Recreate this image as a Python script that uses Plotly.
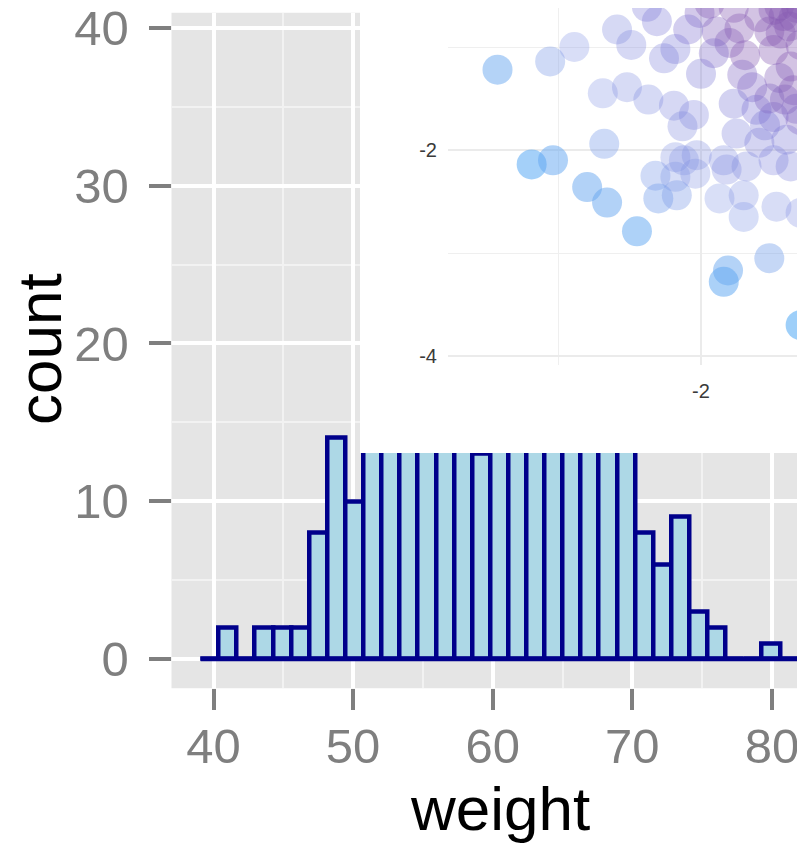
import plotly.graph_objects as go

# ---------------- data ----------------
# histogram of weight (binned counts)
bin_start = 39.08
bin_width = 1.297
counts = [0, 2, 0, 2, 2, 2, 8, 14, 10, 18, 22, 25, 24, 28, 22, 13, 26, 39,
          30, 27, 24, 22, 20, 17, 8, 6, 9, 3, 2, 0, 0, 1, 0, 0]
x_ticks_main = [40, 50, 60, 70, 80]
y_ticks_main = [0, 10, 20, 30, 40]

# inset scatter (visible part only)
sc_x = [-3.43, -3.06, -2.89, -2.59, -2.38, -2.31, -2.49, -2.69, -2.52, -2.37,
        -2.19, -2.26, -2.18, -2.00, -2.05, -2.13, -2.68, -3.19, -3.04, -2.80,
        -2.66, -2.45, -2.32, -2.18, -2.03, -2.04, -2.18, -2.30, -2.17, -1.82,
        -1.87, -1.70, -1.70, -1.47, -1.81, -1.84, -1.52, -1.30, -1.30,
        -2.01, -1.94, -1.77, -1.89, -1.80, -1.69, -1.91, -1.71, -1.64, -1.77,
        -1.49, -1.44, -1.49, -1.35, -1.59, -1.37, -1.49, -1.35, -1.61, -1.75,
        -1.59, -1.40, -1.68, -1.49, -1.37, -1.84, -2.12, -2.09, -1.73, -1.30,
        -1.30, -1.41, -1.30, -1.55,
        -1.45, -1.38, -1.52, -1.33, -1.42, -1.45, -1.33, -1.52]
sc_y = [-1.22, -1.14, -1.00, -0.83, -0.61, -0.75, -0.98, -1.45, -1.39, -1.51,
        -1.57, -1.11, -1.02, -1.26, -1.66, -1.77, -1.94, -2.14, -2.10, -2.36,
        -2.51, -2.79, -2.25, -2.07, -2.05, -2.23, -2.26, -2.47, -2.44, -2.19,
        -2.47, -2.44, -2.65, -2.55, -3.17, -3.28, -3.05, -3.70, -2.61,
        -0.67, -0.58, -0.62, -0.85, -0.96, -1.08, -1.06, -1.27, -1.39, -1.55,
        -1.03, -0.87, -0.64, -0.71, -0.71, -1.19, -1.68, -1.42, -1.61, -1.84,
        -1.93, -1.90, -2.16, -2.10, -2.16, -2.10, -2.10, -0.83, -0.82, -0.59,
        -0.98, -1.51, -1.71, -1.76,
        -0.60, -0.80, -0.85, -0.62, -0.70, -1.30, -1.60, -1.50]
sc_z = [0.18, 0.37, 0.47, 0.64, 0.77, 0.79, 0.66, 0.47, 0.56, 0.60,
        0.65, 0.74, 0.80, 0.82, 0.68, 0.62, 0.35, 0.08, 0.15, 0.17,
        0.17, 0.14, 0.38, 0.50, 0.56, 0.49, 0.43, 0.31, 0.37, 0.58,
        0.45, 0.51, 0.43, 0.53, 0.18, 0.12, 0.30, 0.04, 0.54,
        0.94, 0.99, 1.00, 0.96, 0.98, 1.00, 0.91, 0.93, 0.92, 0.82,
        1.00, 1.00, 1.00, 1.00, 1.00, 1.00, 0.88, 1.00, 0.86, 0.73,
        0.75, 0.82, 0.63, 0.71, 0.72, 0.60, 0.51, 0.88, 1.00, 1.00,
        1.00, 0.97, 0.93, 0.83,
        1.00, 1.00, 1.00, 1.00, 1.00, 0.98, 0.93, 0.95]
inset_x_ticks = [-4, -2]
inset_y_ticks = [-4, -2]

# ---------------- figure ----------------
W, H = 805, 843
OFF = 8  # the page body margin shifts the figure by this many pixels
FONT = "Liberation Sans, Arial, sans-serif"


def px_x(p):
    return (p - OFF) / W


def px_y(p):
    return 1 - (p - OFF) / H


centers = [bin_start + (i + 0.5) * bin_width for i in range(len(counts))]
edges_ends = [bin_start, bin_start + len(counts) * bin_width]

fig = go.Figure()

fig.add_trace(go.Scatter(
    x=edges_ends, y=[0, 0], mode="lines",
    line=dict(color="#00008B", width=4.5),
    xaxis="x", yaxis="y", hoverinfo="skip", showlegend=False))
fig.add_trace(go.Bar(
    x=centers, y=counts, width=bin_width,
    marker=dict(color="#ADD8E6", line=dict(color="#00008B", width=4.5)),
    xaxis="x", yaxis="y", showlegend=False))

# blank white subplot used as the inset background
fig.add_trace(go.Scatter(x=[None], y=[None], xaxis="x2", yaxis="y2",
                         showlegend=False, hoverinfo="skip"))

fig.add_trace(go.Scatter(
    x=sc_x, y=sc_y, mode="markers",
    marker=dict(size=30, color=sc_z, cmin=0, cmax=1, showscale=False,
                colorscale=[[0.0, "rgba(86,177,247,0.62)"],
                            [0.45, "rgba(128,148,228,0.30)"],
                            [0.85, "rgba(118,112,212,0.32)"],
                            [1.0, "rgba(132,88,178,0.36)"]],
                line=dict(width=0)),
    xaxis="x3", yaxis="y3", showlegend=False, hoverinfo="skip"))

# reference-pixel geometry of the main panel
main_left, main_bottom, main_top = 171.5, 688.3, 12.7
x0_px, x_scale = 213.5, 13.96
y0_px, y_scale = 659.0, 15.78
right_px = W + OFF

xr = [40 - (x0_px - main_left) / x_scale, 40 + (right_px - x0_px) / x_scale]
yr = [-(main_bottom - y0_px) / y_scale, (y0_px - main_top) / y_scale]

tick_font = dict(family=FONT, size=49, color="#7F7F7F")

fig.update_layout(
    template="none",
    width=W, height=H,
    margin=dict(l=0, r=0, t=0, b=0, pad=0),
    paper_bgcolor="white", plot_bgcolor="white",
    showlegend=False, bargap=0,
    xaxis=dict(domain=[px_x(main_left), 1], range=xr, anchor="y",
               automargin=False, ticklabeloverflow="allow",
               tickmode="array", tickvals=x_ticks_main,
               ticktext=[str(v) for v in x_ticks_main],
               ticks="outside", ticklen=21, tickwidth=4, tickcolor="#7F7F7F",
               tickfont=tick_font, showgrid=True, gridcolor="white", gridwidth=4,
               minor=dict(dtick=5, tick0=0, showgrid=True, gridcolor="#F2F2F2",
                          gridwidth=2, ticks=""),
               zeroline=False, showline=False, ticklabelstandoff=-6),
    yaxis=dict(domain=[px_y(main_bottom), px_y(main_top)], range=yr, anchor="x",
               automargin=False, ticklabeloverflow="allow",
               tickmode="array", tickvals=y_ticks_main,
               ticktext=[str(v) for v in y_ticks_main],
               ticks="outside", ticklen=22, tickwidth=4, tickcolor="#7F7F7F",
               tickfont=tick_font, showgrid=True, gridcolor="white", gridwidth=4,
               minor=dict(dtick=5, tick0=0, showgrid=True, gridcolor="#F2F2F2",
                          gridwidth=2, ticks=""),
               zeroline=False, showline=False, ticklabelstandoff=10),
    xaxis2=dict(domain=[px_x(360), 1], range=[0, 1], anchor="y2",
                visible=False, automargin=False),
    yaxis2=dict(domain=[px_y(453), 1], range=[0, 1], anchor="x2",
                visible=False, automargin=False),
    xaxis3=dict(domain=[px_x(448), 1],
                range=[-2 - (701 - 448) / 142.3, -2 + (right_px - 701) / 142.3],
                anchor="y3", automargin=False,
                tickmode="array", tickvals=inset_x_ticks,
                ticktext=[str(v) for v in inset_x_ticks],
                tickfont=dict(family=FONT, size=20, color="#3A3A3A"),
                showgrid=True, gridcolor="#EBEBEB", gridwidth=1.6,
                minor=dict(dtick=1, tick0=0, showgrid=True, gridcolor="#EFEFEF",
                           gridwidth=1.4, ticks=""),
                zeroline=False, showline=False, ticks="", ticklabelstandoff=12),
    yaxis3=dict(domain=[px_y(365), 1],
                range=[-2 - (365 - 150) / 103, -2 + (150 - OFF) / 103],
                anchor="x3", automargin=False,
                tickmode="array", tickvals=inset_y_ticks,
                ticktext=[str(v) for v in inset_y_ticks],
                tickfont=dict(family=FONT, size=20, color="#3A3A3A"),
                showgrid=True, gridcolor="#EBEBEB", gridwidth=1.6,
                minor=dict(dtick=1, tick0=0, showgrid=True, gridcolor="#EFEFEF",
                           gridwidth=1.4, ticks=""),
                zeroline=False, showline=False, ticks="", ticklabelstandoff=10),
    shapes=[
        # grey panel of the main histogram
        dict(type="rect", xref="paper", yref="paper",
             x0=px_x(main_left), x1=1, y0=px_y(main_bottom), y1=px_y(main_top),
             fillcolor="#E5E5E5", line=dict(width=0), layer="below"),
        # white notch at the right edge of the inset
        dict(type="rect", xref="paper", yref="paper",
             x0=px_x(799), x1=1, y0=px_y(453), y1=px_y(25),
             fillcolor="white", line=dict(width=0), layer="above"),
    ],
    annotations=[
        dict(text="weight", xref="paper", yref="paper", x=px_x(500), y=px_y(808),
             xanchor="center", yanchor="middle", showarrow=False,
             font=dict(family=FONT, size=62, color="black")),
        dict(text="count", xref="paper", yref="paper", x=px_x(40), y=px_y(349),
             xanchor="center", yanchor="middle", showarrow=False, textangle=-90,
             font=dict(family=FONT, size=62, color="black")),
    ],
)

fig.write_html("out.html")
